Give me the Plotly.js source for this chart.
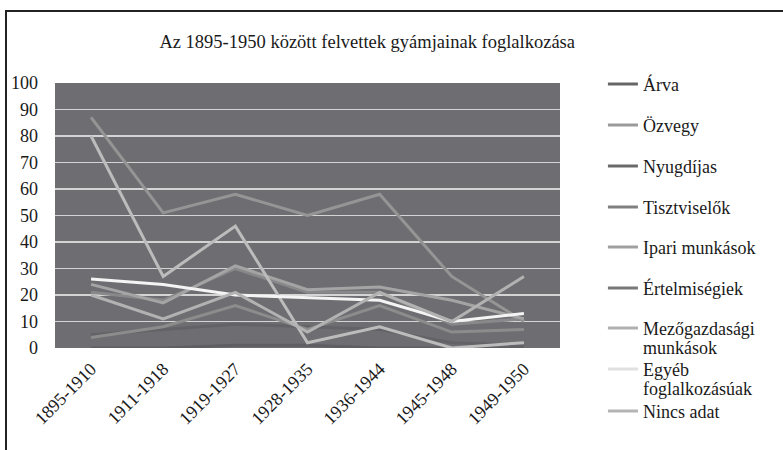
<!DOCTYPE html>
<html>
<head>
<meta charset="utf-8">
<script src="https://cdn.plot.ly/plotly-3.0.1.min.js"></script>
<style>
  html, body { margin: 0; padding: 0; background: #fff; overflow: hidden; }
  #chart { width: 783px; height: 450px; position: absolute; left: 0; top: 0; }
  #frame { position: absolute; left: 5px; top: 10px; width: 900px; height: 600px;
           border-left: 2px solid #222; border-top: 2px solid #222; pointer-events: none; }
</style>
</head>
<body>
<div id="chart"></div>
<div id="frame"></div>
<script>
const categories = ["1895-1910", "1911-1918", "1919-1927", "1928-1935", "1936-1944", "1945-1948", "1949-1950"];

const seriesNames = ["Árva", "Özvegy", "Nyugdíjas", "Tisztviselők", "Ipari munkások",
  "Értelmiségiek", "Mezőgazdasági<br>munkások", "Egyéb<br>foglalkozásúak", "Nincs adat"];

const arva          = [5, 7, 9, 8, 7, 2, 1];
const ozvegy        = [87, 51, 58, 50, 58, 27, 10];
const nyugdijas     = [0, 0, 1, 1, 0, 0, 0];
const tisztviselok  = [21, 18, 30, 21, 21, 9, 11];
const ipari         = [24, 17, 31, 22, 23, 18, 11];
const ertelmisegiek = [4, 8, 16, 7, 16, 6, 7];
const mezogazdasagi = [80, 27, 46, 2, 8, 0, 2];
const egyeb         = [26, 24, 20, 19, 18, 10, 13];
const nincsAdat     = [20, 11, 21, 6, 21, 10, 27];

const values = [arva, ozvegy, nyugdijas, tisztviselok, ipari, ertelmisegiek, mezogazdasagi, egyeb, nincsAdat];
const colors = ["#636367", "#959595", "#5f5f63", "#88888a", "#a4a4a4", "#8c8c8c", "#bcbcbc", "#f4f4f4", "#b2b2b2"];
const legendColors = ["#666666", "#9a9a9a", "#6a6a6a", "#808080", "#a0a0a0", "#787878", "#b0b0b0", "#e0e0e0", "#b4b4b4"];
// vertical centre (page px) of each legend swatch in the original
const legendRows = [84, 125, 166, 207, 247, 288, 328, 369, 411];

const traces = values.map((v, i) => ({
  type: "scatter",
  mode: "lines",
  x: categories,
  y: v,
  name: seriesNames[i],
  line: { color: colors[i], width: 3 },
  hoverinfo: "x+y+name"
}));

const serif = "Liberation Serif";

const layout = {
  width: 783,
  height: 450,
  paper_bgcolor: "#ffffff",
  plot_bgcolor: "#6e6e72",
  font: { family: serif, size: 16, color: "#1a1a1a" },
  margin: { l: 55, r: 223, t: 83, b: 102, pad: 0 },
  title: {
    text: "Az 1895-1950 között felvettek gyámjainak foglalkozása",
    font: { family: serif, size: 18.5, color: "#1a1a1a" },
    x: 0.469, xref: "container", xanchor: "center",
    y: 0.907, yref: "container", yanchor: "middle"
  },
  xaxis: {
    type: "category",
    range: [-0.5, 6.5],
    tickangle: -45,
    showgrid: false,
    zeroline: false,
    showline: false,
    ticks: "",
    ticklabelstandoff: 6,
    tickfont: { family: serif, size: 18, color: "#1a1a1a" },
    fixedrange: true
  },
  yaxis: {
    range: [0, 100],
    dtick: 10,
    tick0: 0,
    showgrid: true,
    gridcolor: "#d4d4d4",
    gridwidth: 1.5,
    zeroline: false,
    showline: false,
    ticks: "",
    ticklabelstandoff: 16,
    tickfont: { family: serif, size: 18, color: "#1a1a1a" },
    fixedrange: true
  },
  showlegend: true,
  legend: {
    x: 1.085, xanchor: "left",
    y: 1.062, yanchor: "top",
    traceorder: "normal",
    valign: "top",
    maxheight: 450,
    bgcolor: "rgba(0,0,0,0)",
    font: { family: serif, size: 18, color: "#1a1a1a" }
  }
};

Plotly.newPlot("chart", traces, layout, { displayModeBar: false, staticPlot: true }).then(gd => {
  const box = gd.querySelector(".legend .scrollbox");
  if (box) box.removeAttribute("clip-path");
  const items = gd.querySelectorAll(".legend .traces");
  items.forEach((el, i) => {
    const p = el.querySelector(".legendlines path");
    if (p && legendColors[i]) p.style.stroke = legendColors[i];
    // tighter line spacing for the two-line entries
    const lines = el.querySelectorAll("text.legendtext tspan.line");
    lines.forEach((t, k) => { if (k > 0) t.setAttribute("dy", "1.05em"); });
    if (p && legendRows[i] !== undefined) {
      const r = p.getBoundingClientRect();
      const cy = r.top + r.height / 2;
      const delta = legendRows[i] - cy;
      const tr = el.getAttribute("transform") || "translate(0,0)";
      const m = tr.match(/translate\(\s*([-\d.e]+)[ ,]+([-\d.e]+)\s*\)/);
      const tx = m ? parseFloat(m[1]) : 0;
      const ty = m ? parseFloat(m[2]) : 0;
      el.setAttribute("transform", "translate(" + tx + "," + (ty + delta) + ")");
    }
  });
});
</script>
</body>
</html>
